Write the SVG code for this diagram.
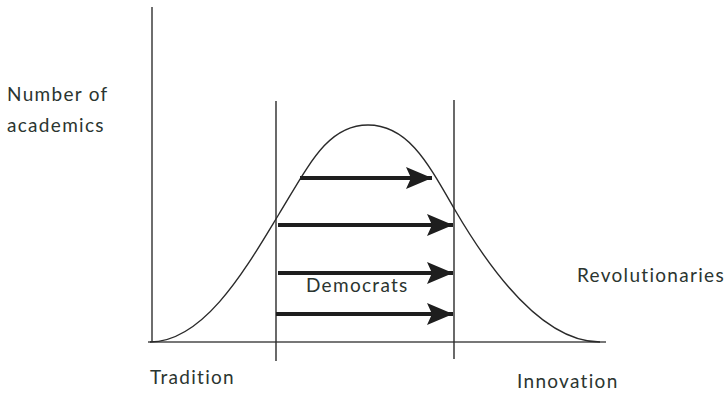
<svg xmlns="http://www.w3.org/2000/svg" width="725" height="393" viewBox="0 0 725 393">
<style>
.ax{stroke:#4a4a4a;stroke-width:1.6;fill:none}
.ln{stroke:#2a2a2a;stroke-width:1.4;fill:none}
.ar{stroke:#1e1e1e;stroke-width:4;fill:none;marker-end:url(#ah)}
.t{font-family:Lato,"Liberation Sans",sans-serif;font-size:19px;fill:#2b3530;letter-spacing:1.3px}
</style>
<defs>
<marker id="ah" markerUnits="userSpaceOnUse" markerWidth="28" markerHeight="22" refX="26" refY="11" orient="auto">
<path d="M0,0 L26,11 L0,22 L5,11 z" fill="#1e1e1e"/>
</marker>
</defs>
<rect width="725" height="393" fill="#fff"/>
<g id="axes">
<line class="ax" x1="152" y1="7" x2="152" y2="342"/>
<line class="ax" x1="148" y1="342" x2="606" y2="342"/>
</g>
<g id="bounds">
<line class="ln" x1="276" y1="101" x2="276" y2="361"/>
<line class="ln" x1="454" y1="100" x2="454" y2="359"/>
</g>
<g id="curve">
<path class="ln" d="M150,342 C205,342 248,265 279,214 C310,163 328,125 368,125 C408,125 428,163 455,210 C486,263 540,342 600,342"/>
</g>
<g id="connectors">
<line class="ar" x1="300" y1="178" x2="432" y2="178"/>
<line class="ar" x1="278" y1="225" x2="453" y2="225"/>
<line class="ar" x1="278" y1="273" x2="453" y2="273"/>
<line class="ar" x1="276" y1="314" x2="453" y2="314"/>
</g>
<g id="labels">
<text class="t" x="7" y="101">Number of</text>
<text class="t" x="7" y="132">academics</text>
<text class="t" x="306" y="292">Democrats</text>
<text class="t" x="577" y="282">Revolutionaries</text>
<text class="t" x="150" y="384">Tradition</text>
<text class="t" x="517" y="388">Innovation</text>
</g>
</svg>
